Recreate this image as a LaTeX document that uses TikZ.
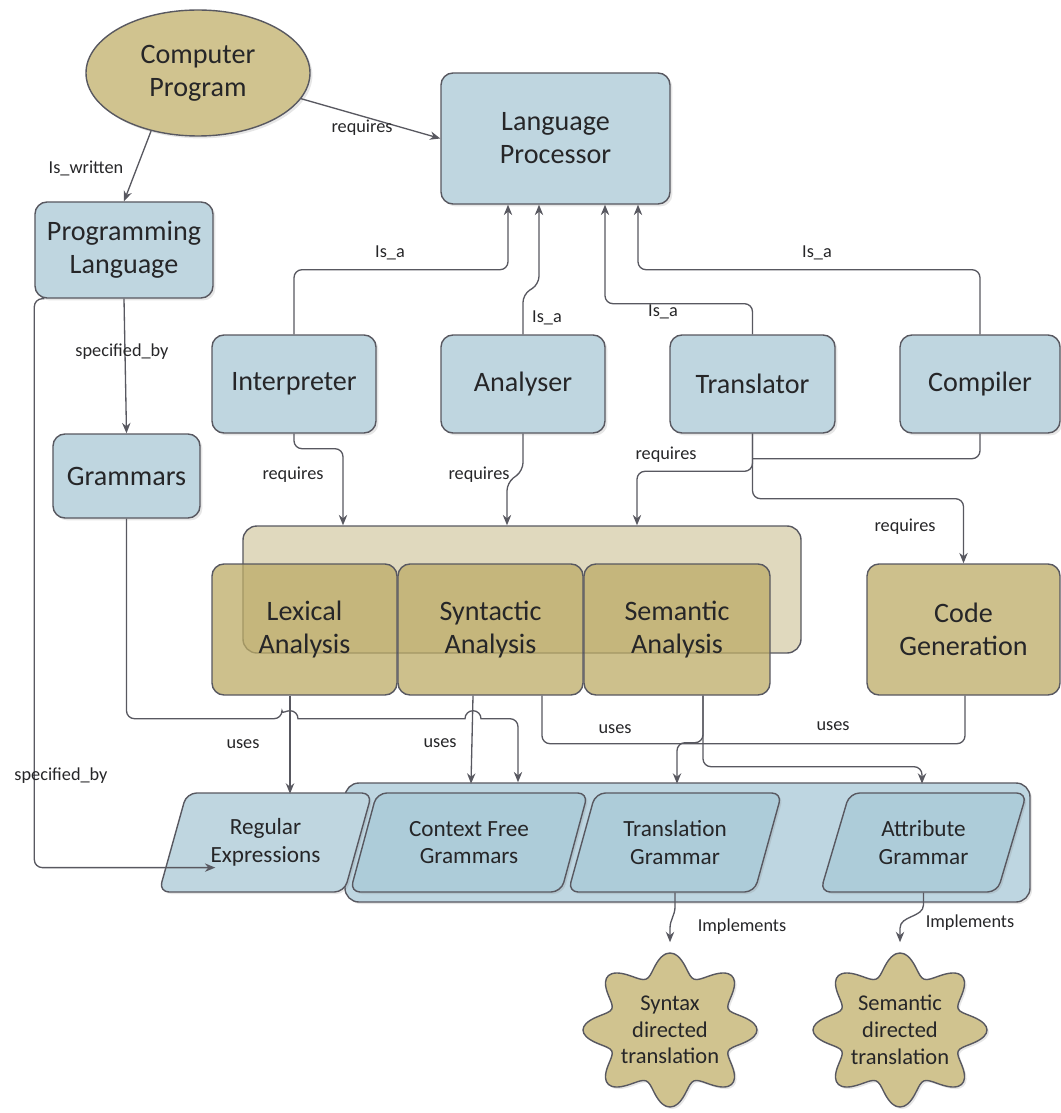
\documentclass[tikz,border=0pt]{standalone}
\usepackage{fontspec}
\setmainfont{Carlito}
\usepackage{tikz}
\usetikzlibrary{calc,shapes.geometric,arrows.meta,shadows}

\definecolor{boxblue}{RGB}{191,214,224}
\definecolor{slantblue}{RGB}{173,204,217}
\definecolor{groupblue}{RGB}{190,214,225}
\definecolor{boxtan}{RGB}{188,171,102}
\definecolor{ovaltan}{RGB}{208,195,143}
\definecolor{grouptan}{RGB}{224,217,190}
\definecolor{edgegray}{RGB}{88,88,96}
\definecolor{textgray}{RGB}{38,38,40}

\tikzset{
	bluebox/.style={draw=edgegray, line width=0.35mm, fill=boxblue, rounded corners=3mm, align=center, text=textgray, inner sep=0pt, font=\fontsize{20}{23.5}\selectfont, drop shadow={shadow xshift=0.6mm, shadow yshift=-0.6mm, opacity=0.2}},
	tanbox/.style={draw=edgegray, line width=0.35mm, fill=boxtan, fill opacity=0.75, text opacity=1, rounded corners=3mm, align=center, text=textgray, inner sep=0pt, font=\fontsize{20}{23.5}\selectfont},
	groupbox/.style={draw=edgegray, line width=0.35mm, rounded corners=3.5mm, inner sep=0pt},
	slantbox/.style={trapezium, trapezium left angle=68, trapezium right angle=112, trapezium stretches=true, minimum height=24.75mm, draw=edgegray, line width=0.35mm, fill=slantblue, rounded corners=2.5mm, align=center, text=textgray, inner sep=0pt, font=\fontsize{16.5}{19.7}\selectfont, drop shadow={shadow xshift=0.5mm, shadow yshift=-0.5mm, opacity=0.2}},
	starshape/.style={draw=edgegray, line width=0.35mm, fill=ovaltan, drop shadow={shadow xshift=0.5mm, shadow yshift=-0.5mm, opacity=0.2}},
	startext/.style={align=center, text=textgray, inner sep=0pt, minimum height=38.75mm, font=\fontsize{16}{19}\selectfont},
	link/.style={draw=edgegray, line width=0.33mm, rounded corners=2mm},
	arr/.style={link, -{Stealth[length=2.6mm, width=2.1mm]}},
	lbl/.style={text=textgray, inner sep=1pt, font=\fontsize{13}{15}\selectfont}
}

\def\wavystar(#1){\draw[starshape, shift={(#1)}] plot[domain=0:357.5, samples=144, smooth cycle] ({(75+12*cos(8*\x))*cos(\x)}, {(66+11*cos(8*\x))*sin(\x)});}

\begin{document}
\begin{tikzpicture}[x=0.25mm, y=-0.25mm]
			%%%%% START %%%%%
			\useasboundingbox (0,0) rectangle (1061,1113);
			
			\node[ellipse, draw=edgegray, line width=0.35mm, fill=ovaltan, minimum width=56mm, minimum height=31.5mm, inner sep=0pt, align=center, text=textgray, font=\fontsize{20}{23.5}\selectfont, drop shadow={shadow xshift=0.6mm, shadow yshift=-0.6mm, opacity=0.2}] (cprog) at (198, 73) {Computer\\Program};
			\node[bluebox, minimum width=57.25mm, minimum height=32.75mm] (lproc) at (555.5, 138.5) {Language\\Processor};
			\node[bluebox, minimum width=44.5mm, minimum height=24mm] (plang) at (124, 250) {Programming\\Language};
			
			\node[bluebox, minimum width=41mm, minimum height=24.5mm] (interp) at (294, 384) {Interpreter};
			\node[bluebox, minimum width=41mm, minimum height=24.5mm] (analy) at (523, 384) {Analyser};
			\node[bluebox, minimum width=41.25mm, minimum height=24.5mm] (transl) at (752.5, 384) {Translator};
			\node[bluebox, minimum width=40mm, minimum height=24.5mm] (compil) at (980, 384) {Compiler};
			\node[bluebox, minimum width=36.75mm, minimum height=21mm] (gramm) at (126.5, 476) {Grammars};
			
			\node[groupbox, fill=grouptan, minimum width=139.5mm, minimum height=31.75mm] (agroup) at (522, 589.5) {};
			\node[tanbox, minimum width=46.25mm, minimum height=32.75mm] (lexi) at (304.5, 629.5) {Lexical\\Analysis};
			\node[tanbox, minimum width=46.25mm, minimum height=32.75mm] (synt) at (490.5, 629.5) {Syntactic\\Analysis};
			\node[tanbox, minimum width=46.5mm, minimum height=32.75mm] (sema) at (677, 629.5) {Semantic\\Analysis};
			\node[tanbox, minimum width=48.25mm, minimum height=32.75mm] (codegen) at (963.5, 629.5) {Code\\Generation};
			
			\node[groupbox, fill=groupblue, minimum width=171.25mm, minimum height=29.75mm, drop shadow={shadow xshift=0.5mm, shadow yshift=-0.5mm, opacity=0.2}] (ggroup) at (687.5, 842.5) {};
			\node[slantbox, fill=boxblue, minimum width=53.25mm] (regex) at (265.5, 842.5) {Regular\\Expressions};
			\node[slantbox, minimum width=59.5mm] (cfg) at (469, 842.5) {Context Free\\Grammars};
			\node[slantbox, minimum width=53.5mm] (trgram) at (675, 842.5) {Translation\\Grammar};
			\node[slantbox, minimum width=51.75mm] (attgram) at (923.5, 842.5) {Attribute\\Grammar};
			
			\wavystar(670, 1030)
			\node[startext] (synstar) at (670, 1030) {Syntax\\directed\\translation};
			\wavystar(900, 1030)
			\node[startext] (semstar) at (900, 1030) {Semantic\\directed\\translation};
			
			% top links
			\draw[arr] (cprog.-14) -- (lproc.west);
			\node[lbl] at (362, 128) {requires};
			\draw[arr] (cprog.-129) -- (plang.north);
			\node[lbl] at (86, 168) {Is\_written};
			\draw[arr] (plang.south) -- (gramm.north);
			\node[lbl] at (122, 352) {specified\_by};
			\draw[arr] ([xshift=2.5mm]plang.south west) -- ++(-10,0) |- ($(regex.south west)!0.25!(regex.north west)$);
			\node[lbl] at (61, 776) {specified\_by};
			
			% is_a links
			\draw[arr] (interp.north) |- ($(lproc.south)+(-47.5,65)$) -- ($(lproc.south)+(-47.5,0)$);
			\node[lbl] at (390, 253) {Is\_a};
			\draw[arr] (analy.north) -- ++(0,-40) -- ++(16,-10) -- ($(lproc.south)+(-16.5,0)$);
			\node[lbl] at (547, 318) {Is\_a};
			\draw[arr] (transl.north) |- ($(lproc.south)+(49.5,99)$) -- ($(lproc.south)+(49.5,0)$);
			\node[lbl] at (663, 312) {Is\_a};
			\draw[arr] (compil.north) |- ($(lproc.south)+(82.5,65)$) -- ($(lproc.south)+(82.5,0)$);
			\node[lbl] at (817, 253) {Is\_a};
			
			% requires links
			\draw[arr] (interp.south) -- ++(0,15) -| ($(agroup.north)+(-179,0)$);
			\node[lbl] at (293, 475) {requires};
			\draw[arr] (analy.south) -- ++(0,37) -- ++(-16,12) -- ($(agroup.north)+(-15,0)$);
			\node[lbl] at (479, 475) {requires};
			\draw[arr] (transl.south) |- ($(agroup.north)+(115,-54)$) -- ($(agroup.north)+(115,0)$);
			\node[lbl] at (666, 455) {requires};
			\draw[link] (compil.south) |- ($(transl.south)+(0,25)$);
			\draw[arr] (transl.south) -- ++(0,65) -| (codegen.north);
			\node[lbl] at (905, 527) {requires};
			
			% uses links
			\draw[arr] (gramm.south) |- ++(155.5,200) [sharp corners] arc[start angle=180, end angle=360, radius=8] -- ++(167,0) arc[start angle=180, end angle=360, radius=8] [rounded corners=2mm] -| ($(ggroup.north)+(-169.5,0)$);
			\draw[arr] ([xshift=-3.625mm]lexi.south) -- ++(0,98);
			\node[lbl] at (243, 744) {uses};
			\draw[arr] ([xshift=-4.375mm]synt.south) -- ++(-2,88);
			\node[lbl] at (440, 743) {uses};
			\draw[arr] ([xshift=6.5mm]sema.south) |- ++(-26,47) -- ++(0,41);
			\draw[arr] ([xshift=6.5mm]sema.south) |- ++(219,71) -- ++(0,17);
			\node[lbl] at (615, 729) {uses};
			\draw[link] ([xshift=0.375mm]codegen.south) |- ++(-423,48) -- ++(0,-48);
			\node[lbl] at (833, 726) {uses};
			
			% implements links
			\draw[arr, sharp corners] (trgram.south) -- ++(0,14) to[out=-90, in=90] ($(synstar.north)+(0,-24)$) -- ($(synstar.north)+(0,-10)$);
			\node[lbl] at (742, 927) {Implements};
			\draw[arr, sharp corners] (attgram.south) -- ++(0,12) to[out=-90, in=90] ($(semstar.north)+(0,-24)$) -- ($(semstar.north)+(0,-10)$);
			\node[lbl] at (970, 923) {Implements};
			
			%%%%% END %%%%%
\end{tikzpicture}
\end{document}
